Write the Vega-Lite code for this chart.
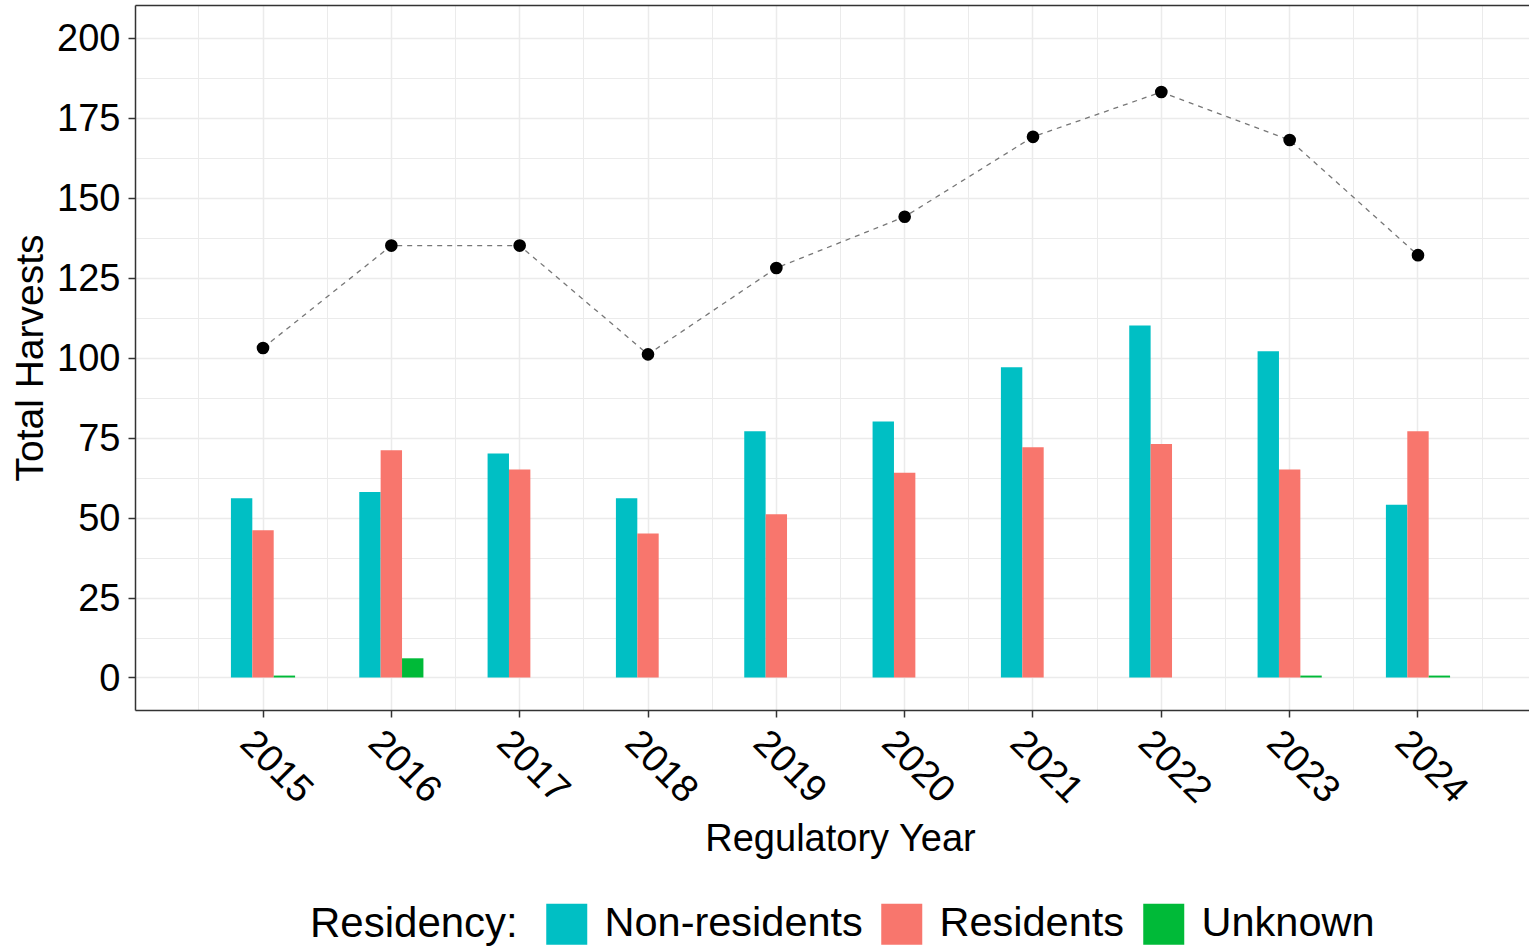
{
  "$schema": "https://vega.github.io/schema/vega-lite/v6.json",
  "width": 1394,
  "height": 705,
  "autosize": "none",
  "padding": {"left": 135, "top": 5, "right": 0, "bottom": 238},
  "background": "white",
  "config": {
    "font": "Liberation Sans",
    "view": {"stroke": null},
    "axis": {
      "labelColor": "black",
      "titleColor": "black",
      "titleFontWeight": "normal",
      "domainColor": "#333333",
      "domainWidth": 1.5,
      "tickColor": "#333333",
      "tickWidth": 1.5,
      "gridColor": "#EBEBEB",
      "gridWidth": 1.5
    },
    "legend": {
      "labelColor": "black",
      "titleColor": "black",
      "titleFontWeight": "normal"
    }
  },
  "datasets": {
    "bars": [
      {"year": 2015, "residency": "Non-residents", "harvests": 56},
      {"year": 2015, "residency": "Residents", "harvests": 46},
      {"year": 2015, "residency": "Unknown", "harvests": 0.6},
      {"year": 2016, "residency": "Non-residents", "harvests": 58},
      {"year": 2016, "residency": "Residents", "harvests": 71},
      {"year": 2016, "residency": "Unknown", "harvests": 6},
      {"year": 2017, "residency": "Non-residents", "harvests": 70},
      {"year": 2017, "residency": "Residents", "harvests": 65},
      {"year": 2018, "residency": "Non-residents", "harvests": 56},
      {"year": 2018, "residency": "Residents", "harvests": 45},
      {"year": 2019, "residency": "Non-residents", "harvests": 77},
      {"year": 2019, "residency": "Residents", "harvests": 51},
      {"year": 2020, "residency": "Non-residents", "harvests": 80},
      {"year": 2020, "residency": "Residents", "harvests": 64},
      {"year": 2021, "residency": "Non-residents", "harvests": 97},
      {"year": 2021, "residency": "Residents", "harvests": 72},
      {"year": 2022, "residency": "Non-residents", "harvests": 110},
      {"year": 2022, "residency": "Residents", "harvests": 73},
      {"year": 2023, "residency": "Non-residents", "harvests": 102},
      {"year": 2023, "residency": "Residents", "harvests": 65},
      {"year": 2023, "residency": "Unknown", "harvests": 0.6},
      {"year": 2024, "residency": "Non-residents", "harvests": 54},
      {"year": 2024, "residency": "Residents", "harvests": 77},
      {"year": 2024, "residency": "Unknown", "harvests": 0.6}
    ],
    "totals": [
      {"year": 2015, "total": 103},
      {"year": 2016, "total": 135},
      {"year": 2017, "total": 135},
      {"year": 2018, "total": 101},
      {"year": 2019, "total": 128},
      {"year": 2020, "total": 144},
      {"year": 2021, "total": 169},
      {"year": 2022, "total": 183},
      {"year": 2023, "total": 168},
      {"year": 2024, "total": 132}
    ]
  },
  "resolve": {"axis": {"x": "independent", "y": "independent"}},
  "layer": [
    {
      "data": {"name": "bars"},
      "mark": {"type": "bar"},
      "encoding": {
        "x": {
          "field": "year",
          "type": "ordinal",
          "scale": {"paddingInner": 0.5, "paddingOuter": 0.68125, "align": 0.5486},
          "axis": {
            "orient": "bottom",
            "bandPosition": 0.5,
            "title": "Regulatory Year",
            "titleFontSize": 38,
            "titleX": 705,
            "titleY": 140,
            "titleAlign": "center",
            "titleBaseline": "alphabetic",
            "labelAngle": 45,
            "labelAlign": "left",
            "labelBaseline": "middle",
            "labelFontSize": 38,
            "labelOffset": -17,
            "labelPadding": 20,
            "tickSize": 7,
            "grid": true,
            "domain": true
          }
        },
        "xOffset": {
          "field": "residency",
          "type": "nominal",
          "scale": {"domain": ["Non-residents", "Residents", "Unknown"], "paddingInner": 0, "paddingOuter": 0}
        },
        "y": {
          "field": "harvests",
          "type": "quantitative",
          "scale": {"domain": [-10.16, 210.2], "nice": false, "zero": false},
          "axis": {
            "orient": "left",
            "title": "Total Harvests",
            "titleFontSize": 39,
            "titleX": -93,
            "titleY": 352.5,
            "titleAlign": "center",
            "titleBaseline": "alphabetic",
            "titleAngle": -90,
            "values": [0, 25, 50, 75, 100, 125, 150, 175, 200],
            "labelFontSize": 38,
            "labelPadding": 8,
            "labelOffset": 2,
            "tickSize": 7,
            "grid": true,
            "domain": true
          }
        },
        "color": {
          "field": "residency",
          "type": "nominal",
          "scale": {"domain": ["Non-residents", "Residents", "Unknown"], "range": ["#00BFC4", "#F8766D", "#00BA38"]},
          "legend": {
            "title": "Residency:",
            "orient": "none",
            "legendX": 175,
            "legendY": 898,
            "direction": "horizontal",
            "titleOrient": "left",
            "titleFontSize": 42,
            "titleBaseline": "middle",
            "titleAnchor": "middle",
            "titlePadding": 28,
            "titleLimit": 600,
            "labelFontSize": 41.5,
            "labelLimit": 600,
            "labelOffset": 17,
            "columnPadding": 18,
            "symbolType": "square",
            "symbolSize": 1681,
            "symbolStrokeWidth": 0,
            "symbolOpacity": 1
          }
        }
      }
    },
    {
      "data": {"name": "totals"},
      "mark": {"type": "line", "color": "#777777", "strokeWidth": 1.3, "strokeDash": [5, 5]},
      "encoding": {
        "x": {
          "field": "year",
          "type": "ordinal",
          "axis": {
            "orient": "bottom",
            "bandPosition": -0.5,
            "labels": false,
            "ticks": false,
            "domain": false,
            "title": null,
            "grid": true,
            "gridWidth": 1
          }
        },
        "y": {
          "field": "total",
          "type": "quantitative",
          "axis": {
            "orient": "left",
            "values": [12.5, 37.5, 62.5, 87.5, 112.5, 137.5, 162.5, 187.5],
            "labels": false,
            "ticks": false,
            "domain": false,
            "title": null,
            "grid": true,
            "gridWidth": 1
          }
        }
      }
    },
    {
      "data": {"name": "totals"},
      "mark": {"type": "point", "filled": true, "color": "black", "opacity": 1, "size": 160},
      "encoding": {
        "x": {
          "field": "year",
          "type": "ordinal",
          "axis": {
            "orient": "bottom",
            "bandPosition": 1.5,
            "labels": false,
            "ticks": false,
            "domain": false,
            "title": null,
            "grid": true,
            "gridWidth": 1
          }
        },
        "y": {"field": "total", "type": "quantitative", "axis": null}
      }
    },
    {
      "data": {"name": "totals"},
      "mark": {"type": "point", "opacity": 0},
      "encoding": {
        "x": {
          "field": "year",
          "type": "ordinal",
          "axis": {
            "orient": "top",
            "labels": false,
            "ticks": false,
            "domain": true,
            "title": null,
            "grid": false
          }
        },
        "y": {"field": "total", "type": "quantitative", "axis": null}
      }
    }
  ]
}
